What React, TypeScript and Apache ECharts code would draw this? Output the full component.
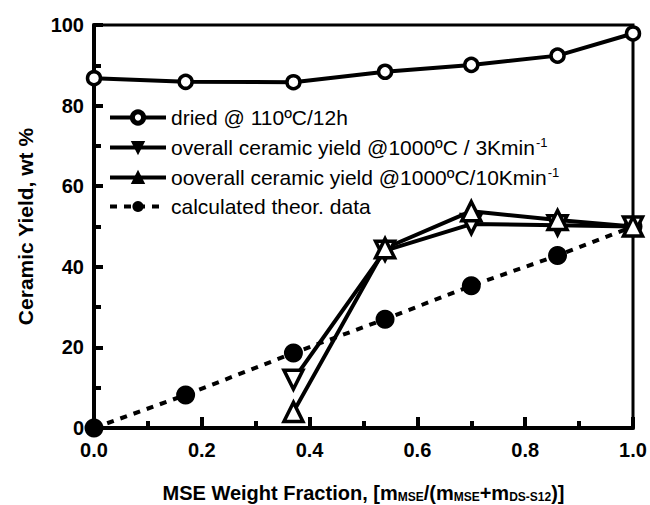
import React, { useEffect, useRef } from "react";
import * as echarts from "echarts";

const xValues = [0, 0.17, 0.37, 0.54, 0.70, 0.86, 1.0];
const dried = [86.8, 85.9, 85.8, 88.4, 90.1, 92.4, 97.9];
const yield3K = [null, null, 12, 44, 50.6, 50.3, 50];
const yield10K = [null, null, 4, 44.6, 53.8, 51.6, 50];
const calculated = [0, 8.2, 18.6, 27, 35.3, 42.8, 50];

const seriesNames = [
  "dried @ 110ºC/12h",
  "overall ceramic yield @1000ºC / 3Kmin",
  "ooverall ceramic yield @1000ºC/10Kmin",
  "calculated theor. data",
];
const supNames = new Set([seriesNames[1], seriesNames[2]]);

const toPairs = (ys: (number | null)[]) =>
  xValues.map((x, i) => (ys[i] === null ? null : [x, ys[i]])).filter((p) => p !== null);

const FONT = "'Liberation Sans', Arial, Helvetica, sans-serif";

export default function App() {
  const ref = useRef<HTMLDivElement>(null);
  useEffect(() => {
    if (!ref.current) return;
    const chart = echarts.init(ref.current, null, { renderer: "svg" });
    const lineStyle = { color: "#000", width: 4 };
    chart.setOption({
      animation: false,
      backgroundColor: "#fff",
      textStyle: { fontFamily: FONT },
      grid: {
        left: 94,
        right: 17,
        top: 25,
        bottom: 77,
        outerBoundsMode: "none",
        containLabel: false,
        show: true,
        borderColor: "#000",
        borderWidth: 3,
        backgroundColor: "transparent",
      },
      legend: {
        orient: "vertical",
        left: 103,
        top: 102,
        itemWidth: 56,
        itemHeight: 14,
        itemGap: 8,
        data: [
          { name: seriesNames[0], itemStyle: { borderWidth: 5 } },
          { name: seriesNames[1], itemStyle: { color: "#000" } },
          { name: seriesNames[2], itemStyle: { color: "#000" } },
          { name: seriesNames[3] },
        ],
        lineStyle: { width: 4 },
        textStyle: {
          fontFamily: FONT,
          fontSize: 21,
          color: "#000",
          rich: {
            sup: { fontSize: 13, verticalAlign: "top", color: "#000", padding: [0, 0, 10, 1] },
          },
        },
        formatter: (name: string) => (supNames.has(name) ? name + "{sup|-1}" : name),
      },
      xAxis: {
        type: "value",
        min: 0,
        max: 1,
        interval: 0.2,
        name: "MSE Weight Fraction, [m{sub|MSE}/(m{sub|MSE}+m{sub|DS-S12})]",
        nameLocation: "middle",
        nameGap: 55,
        nameTextStyle: {
          fontFamily: FONT,
          fontSize: 20,
          fontWeight: "bold",
          color: "#000",
          rich: {
            sub: {
              fontFamily: FONT,
              fontSize: 12,
              fontWeight: "bold",
              color: "#000",
              verticalAlign: "bottom",
              padding: [7, 0, 0, 0],
            },
          },
        },
        axisLine: { show: true, lineStyle: { color: "#000", width: 4 } },
        axisTick: { show: true, inside: true, length: 11, lineStyle: { color: "#000", width: 4 } },
        minorTick: { show: true, splitNumber: 2, length: 7, lineStyle: { color: "#000", width: 4 } },
        splitLine: { show: false },
        axisLabel: {
          fontFamily: FONT,
          fontSize: 20,
          fontWeight: "bold",
          color: "#000",
          margin: 12,
          formatter: (v: number) => v.toFixed(1),
        },
      },
      yAxis: {
        type: "value",
        min: 0,
        max: 100,
        interval: 20,
        name: "Ceramic Yield, wt %",
        nameLocation: "middle",
        nameGap: 58,
        nameRotate: 90,
        nameTextStyle: { fontFamily: FONT, fontSize: 21, fontWeight: "bold", color: "#000" },
        axisLine: { show: true, lineStyle: { color: "#000", width: 4 } },
        axisTick: { show: true, inside: true, length: 9, lineStyle: { color: "#000", width: 4 } },
        minorTick: { show: true, splitNumber: 2, length: 7, lineStyle: { color: "#000", width: 4 } },
        splitLine: { show: false },
        axisLabel: {
          fontFamily: FONT,
          fontSize: 20,
          fontWeight: "bold",
          color: "#000",
          margin: 10,
        },
      },
      series: [
        {
          name: seriesNames[0],
          type: "line",
          data: toPairs(dried),
          symbol: "circle",
          symbolSize: 13,
          lineStyle,
          itemStyle: { color: "#fff", borderColor: "#000", borderWidth: 3.5 },
          clip: false,
          z: 5,
        },
        {
          name: seriesNames[1],
          type: "line",
          data: toPairs(yield3K),
          symbol: "triangle",
          symbolRotate: 180,
          symbolSize: 19,
          lineStyle,
          itemStyle: { color: "#fff", borderColor: "#000", borderWidth: 3.5 },
          clip: false,
          z: 4,
        },
        {
          name: seriesNames[2],
          type: "line",
          data: toPairs(yield10K),
          symbol: "triangle",
          symbolSize: 19,
          lineStyle,
          itemStyle: { color: "#fff", borderColor: "#000", borderWidth: 3.5 },
          clip: false,
          z: 4,
        },
        {
          name: seriesNames[3],
          type: "line",
          data: toPairs(calculated),
          symbol: "circle",
          symbolSize: 19,
          lineStyle: { color: "#000", width: 4, type: [7, 7] },
          itemStyle: { color: "#000", borderColor: "#000", borderWidth: 0 },
          clip: false,
          z: 3,
        },
      ],
    });
    return () => chart.dispose();
  }, []);
  return <div ref={ref} style={{ width: 650, height: 505, position: "absolute", left: 0, top: 0 }} />;
}
